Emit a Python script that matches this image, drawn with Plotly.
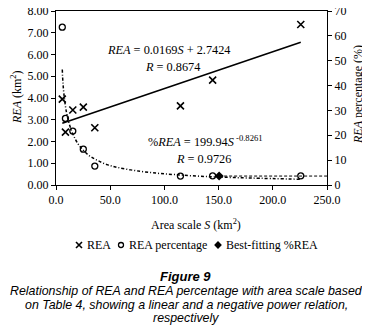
import plotly.graph_objects as go

# Data
area_S = [5.8, 8.7, 15.5, 25.2, 35.8, 114.8, 144.5, 225.8]          # km2
rea_km2 = [3.95, 2.43, 3.45, 3.58, 2.63, 3.64, 4.82, 7.38]          # REA (km2)
rea_pct = [63.5, 26.8, 21.7, 14.4, 7.6, 3.6, 3.7, 3.7]              # REA percentage (%)

best_S = [150.5]
best_pct = [3.6]

# Linear fit line (REA = 0.0169S + 2.7424), endpoints
lin_S = [5.8, 225.8]
lin_REA = [2.84, 6.56]

# Power fit curve (%REA = 199.94S^-0.8261)
pow_S = [5.8, 6.5, 8, 10, 13, 17.6, 22.3, 30, 37.8, 47, 56.4, 73, 92, 109, 130, 150, 180, 225.8]
pow_pct = [46.5, 40.5, 34.0, 28.5, 23.5, 18.6, 15.4, 12.0, 10.0, 8.2, 7.1, 5.8, 4.8, 4.2, 3.6, 3.2, 2.8, 2.3]

# Best-fitting level line
lvl_S = [150.5, 250]
lvl_pct = [3.6, 3.6]

x_ticks = [0, 50, 100, 150, 200, 250]
y_ticks = [0, 1, 2, 3, 4, 5, 6, 7, 8]
y2_ticks = [0, 10, 20, 30, 40, 50, 60, 70]

legend_names = ["REA", "REA percentage", "Best-fitting %REA"]

# The page body has an 8px margin, so the figure is sized to fill the rest of the window.
OFF = 8
W, H = 370 - OFF, 329 - OFF
serif = "Liberation Serif"
sans = "Liberation Sans"

# window-pixel -> paper helpers (margins are zero, so paper coords == figure pixels)
def px(x):
    return (x - OFF) / W

def py(y):
    return (H - (y - OFF)) / H

fig = go.Figure()

fig.add_trace(go.Scatter(x=lin_S, y=lin_REA, mode="lines",
                         line=dict(color="black", width=1.6), showlegend=False, hoverinfo="skip"))
fig.add_trace(go.Scatter(x=pow_S, y=pow_pct, mode="lines", yaxis="y2", line_shape="spline",
                         line=dict(color="black", width=1.5, dash="3px,2px,1px,2px"),
                         showlegend=False, hoverinfo="skip"))
fig.add_trace(go.Scatter(x=lvl_S, y=lvl_pct, mode="lines", yaxis="y2",
                         line=dict(color="black", width=1, dash="3px,2px"),
                         showlegend=False, hoverinfo="skip"))

fig.add_trace(go.Scatter(x=area_S, y=rea_km2, mode="markers", name=legend_names[0], showlegend=False,
                         marker=dict(symbol="x-thin", size=7, color="black",
                                     line=dict(color="black", width=1.6))))
fig.add_trace(go.Scatter(x=area_S, y=rea_pct, mode="markers", name=legend_names[1], yaxis="y2",
                         showlegend=False,
                         marker=dict(symbol="circle-open", size=6, color="black",
                                     line=dict(color="black", width=1.3))))
fig.add_trace(go.Scatter(x=best_S, y=best_pct, mode="markers", name=legend_names[2], yaxis="y2",
                         showlegend=False,
                         marker=dict(symbol="diamond", size=7, color="black")))

# Legend keys drawn on a hidden window-pixel axis
leg_marker_x = [79, 121, 218]
leg_y = 245
leg_styles = [dict(symbol="x-thin", size=6, color="black", line=dict(color="black", width=1.6)),
              dict(symbol="circle-open", size=5, color="black", line=dict(color="black", width=1.3)),
              dict(symbol="diamond", size=6, color="black")]
for mx, st in zip(leg_marker_x, leg_styles):
    fig.add_trace(go.Scatter(x=[mx], y=[leg_y], xaxis="x3", yaxis="y3", mode="markers",
                             showlegend=False, hoverinfo="skip", marker=st))

axis_font = dict(family=serif, size=12, color="black")

fig.update_layout(
    width=W, height=H,
    margin=dict(l=0, r=0, t=0, b=0, pad=0, autoexpand=False),
    paper_bgcolor="white", plot_bgcolor="rgba(0,0,0,0)",
    font=dict(family=serif, size=12, color="black"),
    showlegend=False,
    xaxis=dict(domain=[px(56), px(327)], anchor="y",
               range=[0, 250], tickvals=x_ticks, tickformat=".1f", ticks="outside", ticklen=4,
               tickcolor="black", showline=True, linecolor="black", linewidth=1, mirror=True,
               showgrid=False, zeroline=False, tickfont=axis_font, automargin=False,
               ticklabeloverflow="allow"),
    yaxis=dict(domain=[py(185), py(11)], anchor="x",
               range=[0, 8], tickvals=y_ticks, tickformat=".2f", ticks="outside", ticklen=4,
               tickcolor="black", showline=True, linecolor="black", linewidth=1,
               showgrid=False, zeroline=False, tickfont=axis_font, automargin=False,
               ticklabeloverflow="allow"),
    yaxis2=dict(range=[0, 70], tickvals=y2_ticks, overlaying="y", side="right", anchor="x",
                ticks="outside", ticklen=4, tickcolor="black", showline=True, linecolor="black",
                linewidth=1, showgrid=False, zeroline=False, tickfont=axis_font, automargin=False,
                ticklabeloverflow="allow"),
    xaxis3=dict(domain=[0, 1], range=[OFF, OFF + W], anchor="y3", visible=False, fixedrange=True),
    yaxis3=dict(domain=[0, 1], range=[OFF + H, OFF], anchor="x3", visible=False, fixedrange=True),
)

# Axis titles
fig.add_annotation(x=px(196), y=py(224), xref="paper", yref="paper", showarrow=False,
                   xanchor="center", yanchor="middle", font=axis_font,
                   text="Area scale <i>S</i> (km<sup>2</sup>)")
fig.add_annotation(x=px(16), y=py(97), xref="paper", yref="paper", showarrow=False, textangle=-90,
                   xanchor="center", yanchor="middle", font=axis_font,
                   text="<i>REA</i> (km<sup>2</sup>)")
fig.add_annotation(x=px(358), y=py(95), xref="paper", yref="paper", showarrow=False, textangle=-90,
                   xanchor="center", yanchor="middle", font=axis_font,
                   text="<i>REA</i> percentage (%)")

# Legend labels
for name, mx in zip(legend_names, leg_marker_x):
    fig.add_annotation(x=px(mx + 6), y=py(leg_y), xref="paper", yref="paper", showarrow=False,
                       xanchor="left", yanchor="middle", font=axis_font, text=name)

# Fit equations
eq_font = dict(family=serif, size=12.3, color="black")
fig.add_annotation(x=px(169), y=py(41), xref="paper", yref="paper", showarrow=False, font=eq_font,
                   text="<i>REA</i> = 0.0169<i>S</i> + 2.7424")
fig.add_annotation(x=px(172.5), y=py(58), xref="paper", yref="paper", showarrow=False, font=eq_font,
                   text="<i>R</i> = 0.8674")
fig.add_annotation(x=px(205), y=py(141), xref="paper", yref="paper", showarrow=False, font=eq_font,
                   text="%<i>REA</i> = 199.94<i>S</i><sup> -0.8261</sup>")
fig.add_annotation(x=px(203), y=py(159), xref="paper", yref="paper", showarrow=False, font=eq_font,
                   text="<i>R</i> = 0.9726")

# Caption
cap_font = dict(family=sans, size=12.4, color="black")
fig.add_annotation(x=px(185), y=py(276), xref="paper", yref="paper", xanchor="center", yanchor="middle",
                   showarrow=False, font=dict(family=sans, size=13, color="black"),
                   text="<b><i>Figure 9</i></b>")
cap_lines = ["Relationship of REA and REA percentage with area scale based",
             "on Table 4, showing a linear and a negative power relation,",
             "respectively"]
for txt, p in zip(cap_lines, [291, 305, 318]):
    fig.add_annotation(x=px(186), y=py(p), xref="paper", yref="paper", xanchor="center", yanchor="middle",
                       showarrow=False, font=cap_font, text="<i>" + txt + "</i>")

fig.write_html("out.html")
